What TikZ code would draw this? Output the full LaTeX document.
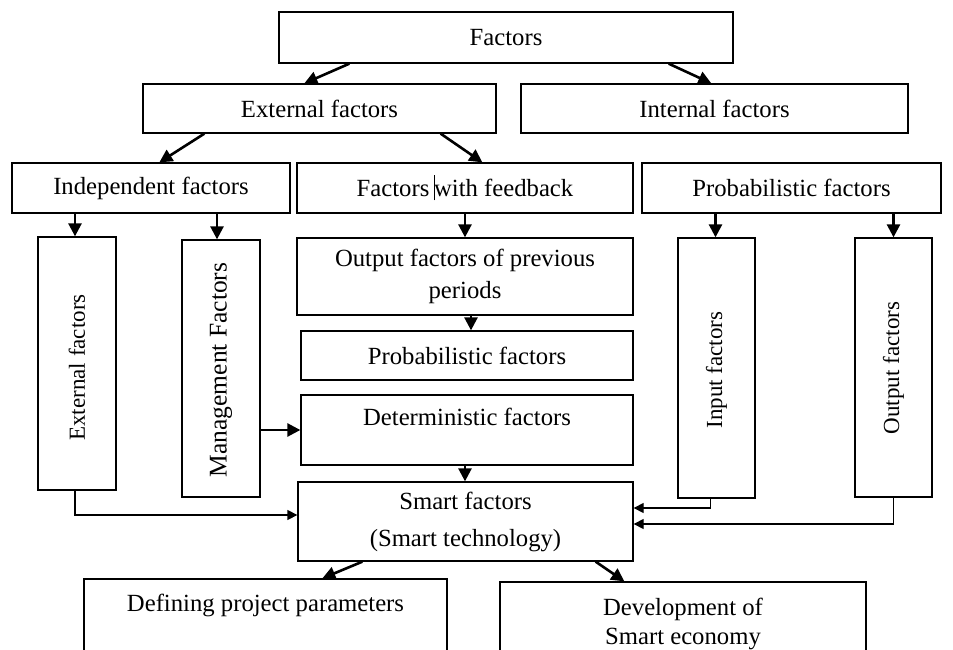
\documentclass[tikz,border=0pt]{standalone}
\usepackage{fontspec}
\setmainfont{Liberation Serif}
\usetikzlibrary{arrows.meta,calc}
\begin{document}
\begin{tikzpicture}[x=1pt,y=-1pt,
  box/.style={draw=black, line width=1.3pt, inner sep=0pt},
  txt/.style={font=\fontsize{24.7}{28}\selectfont, text=black, align=center},
  vtxt/.style={font=\fontsize{23}{28}\selectfont, text=black, rotate=90, inner sep=0pt},
  bigarrow/.style={line width=2.6pt, -{Triangle[length=13pt,width=13pt]}},
  thinarrow/.style={line width=1.3pt, -{Triangle[length=10pt,width=10pt]}},
]
\useasboundingbox (0,0) rectangle (953,650);
\clip (0,0) rectangle (953,650);

% top levels
\node[box, txt, minimum width=454pt, minimum height=51pt] (fac) at (506,37.5) {Factors};
\node[box, txt, minimum width=353pt, minimum height=49pt] (ext) at (319.5,108.5) {External factors};
\node[box, txt, minimum width=387pt, minimum height=49pt] (int) at (714.5,108.5) {Internal factors};

\node[box, txt, minimum width=278pt, minimum height=50pt] (ind) at (151,188) {Independent factors};
\node[box, txt, minimum width=336pt, minimum height=50pt] (fwf) at (465,188)
  {Factors\hspace{0.2em}\rule[-4pt]{1pt}{25pt}\hspace{-0.05em}with feedback};
\node[box, txt, minimum width=299pt, minimum height=50pt] (prb) at (791.5,188) {Probabilistic factors};

% tall boxes with vertical labels
\node[box, minimum width=78pt, minimum height=253pt] (vext) at (77,363.5) {};
\node[vtxt] (vextT) at (77,367.5) {External factors};
\node[box, minimum width=78pt, minimum height=257pt] (vman) at (221,368.5) {};
\node[vtxt, font=\fontsize{25.5}{28}\selectfont] (vmanT) at (221,370) {Management Factors};
\node[box, minimum width=77pt, minimum height=260pt] (vin) at (716.5,368) {};
\node[vtxt] (vinT) at (716.5,370) {Input factors};
\node[box, minimum width=77pt, minimum height=259pt] (vout) at (893.5,367.5) {};
\node[vtxt] (voutT) at (893.5,368) {Output factors};

% central column
\node[box, txt, font=\fontsize{24.7}{32}\selectfont, minimum width=336pt, minimum height=77pt] (ofp) at (465,276.5)
  {Output factors of previous\\periods};
\node[box, txt, minimum width=332pt, minimum height=49pt] (prm) at (467,355.5) {Probabilistic factors};
\node[box, minimum width=332pt, minimum height=70pt] (det) at (467,430) {};
\node[txt, anchor=north, inner sep=0pt] (detT) at (467,408) {Deterministic factors};
\node[box, txt, font=\fontsize{24.7}{37}\selectfont, minimum width=335pt, minimum height=79pt] (smt) at (465.5,521.5)
  {Smart factors\\(Smart technology)};

% results (run past the lower edge)
\node[box, minimum width=363pt, minimum height=130pt] (def) at (265.5,644) {};
\node[txt, anchor=north, inner sep=0pt] (defT) at (265.5,594) {Defining project parameters};
\node[box, minimum width=366pt, minimum height=130pt] (dev) at (683,647) {};
\node[txt, font=\fontsize{24.7}{29}\selectfont, anchor=north, inner sep=0pt] (devT) at (683,598)
  {Development of\\Smart economy};

% heavy arrows
\draw[bigarrow] ([xshift=71pt]fac.south west) -- ([xshift=162pt]ext.north west);
\draw[bigarrow] ([xshift=-65pt]fac.south east) -- ([xshift=191pt]int.north west);
\draw[bigarrow] ([xshift=62pt]ext.south west) -- ([xshift=148pt]ind.north west);
\draw[bigarrow] ([xshift=-56pt]ext.south east) -- ([xshift=186pt]fwf.north west);

\draw[bigarrow] ([xshift=-2pt]ind.south -| vext) -- ([xshift=-2pt]vext.north);
\draw[bigarrow] ([xshift=-4pt]ind.south -| vman) -- ([xshift=-4pt]vman.north);
\draw[bigarrow] (fwf) -- (ofp);
\draw[bigarrow] ([xshift=-1pt]prb.south -| vin) -- ([xshift=-1pt]vin.north);
\draw[bigarrow] (prb.south -| vout) -- (vout.north);

\draw[bigarrow] ([xshift=6pt]ofp.south) -- ([xshift=6pt]ofp.south |- prm.north);
\draw[bigarrow] (vman.east |- det.west) -- (det.west);
\draw[bigarrow] ([xshift=-2pt]det.south) -- ([xshift=-2pt]det.south |- smt.north);

\draw[bigarrow] ([xshift=65pt]smt.south west) -- ([xshift=239pt]def.north west);
\draw[bigarrow] ([xshift=-38pt]smt.south east) -- ([xshift=125pt]dev.north west);

% thin elbow connectors into the smart factors box
\draw[thinarrow] ([xshift=-2pt]vext.south) |- ([yshift=6.5pt]smt.west);
\draw[thinarrow] ([xshift=-6pt]vin.south) |- ([yshift=13.5pt]smt.east);
\draw[thinarrow] (vout.south) |- ([yshift=-2.5pt]smt.east);
\end{tikzpicture}
\end{document}
